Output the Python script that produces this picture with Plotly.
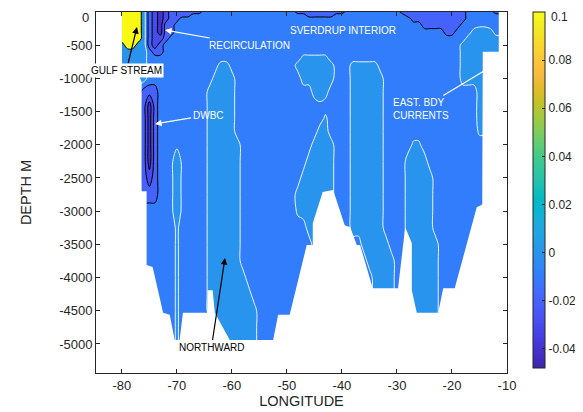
import plotly.graph_objects as go

# ---------------- data ----------------
lon_grid = list(range(-80, -10))          # -80 ... -11 (grid columns)
depth_grid = [0, -50, -100, -200, -300, -400, -500, -600, -700, -800, -1000,
              -1200, -1400, -1600, -1800, -2000, -2250, -2500, -2750, -3000,
              -3250, -3500, -3750, -4000, -4250, -4500, -4750, -5000]

# velocity classes (m/s)
velocity_codes = {'.': -0.005, '+': 0.005, 'p': 0.015, 't': 0.002,
                  'a': -0.015, 'b': -0.025, 'c': -0.035, 'Y': 0.1}

# rows top->bottom, columns lon -80..-11 (groups of 10 degrees)
velocity_rows = [
    "YYYY+abcba aaaaa..... .......... ..aaaaaaaa a......... .aaaaaaaaa aaa.....aa",
    "YYYY+abcba aaa....... .......... ....aaaaa. .......... ..aaaaaaaa aaa.......",
    "YYYY+abcba a......... .......... .......... .......... ...aaaaaaa aaa.......",
    "YYYY+abcaa .......... .......... .......... .......... .....aaaaa aa........",
    "YYYY+abcaa .......... .......... .......... .......... .........a a...+pp+..",
    "YYYY+abba. .......... .......... .......... .......... .......... ...+++++++",
    "+YY++aba.. .......... .......... .......... .......... .......... ..++++++++",
    "+++++.aa.. .......... .......... .......... .......... .......... ..++++++++",
    "+++++..... .......... .......... ...+++++.. .......... .......... ..++++++++",
    "+++++..... ........++ .......... ..+++++++. ..+++++... .......... ..++++++++",
    "+++++..... .......+++ +......... ...++++++. ..++++++.. .......... ..++++++++",
    "....aaa... ......++++ +......... .....+p+.. ..++++++.. .......... .....+++++",
    "....aca... ......++++ +......... .......... ..++++++.. .......... .....+++++",
    "....aca... ......++++ +......... .......t.. ..++++++.. .......... .....+++++",
    "....aca... ......++++ +......... ......++.. ..++++++.. .......... .....ttttt",
    "....aca... ......++++ ++........ .....++++. ..++++++.. ...tt..... ..........",
    "....aca... p.....++++ ++........ ....+++++. ..++++++.. ..++++.... ..........",
    "....aba... p.....++++ ++........ ...++++++. ..++++++.. ..+++++... ..........",
    "....aaa... p.....++++ ++........ ..+++++++. ..++++++.. ..+++++... ..........",
    ".......... p.....++++ ++........ ..t++++++. ..++++++.. ..+++++... ..........",
    ".......... t.....++++ ++........ ....+++++. ..++++++.. ..+++++... ..........",
    ".......... t.....++++ ++........ .....++++. ....+++++. ..++++++.. ..........",
    ".......... t.....++++ ++........ .....++++. .....+++++ ..++++++.. ..........",
    ".......... t.....++++ +++....... .....++++. ......++++ ..++++++.. ..........",
    ".......... t.....++++ ++++...... .....++++. ......++++ ..++++++.. ..........",
    ".......... t.....++++ +++++..... .....++++. ......++++ ..++++++.. ..........",
    ".......... t......+++ +++++..... .....++++. ......++++ ..++++++.. ..........",
    ".......... t......+++ +++++..... .....++++. ......++++ ..++++++.. ..........",
]

# sea floor (bathymetry), west -> east
bathy_lon = [-80.0, -77.0, -76.4, -76.4, -75.5, -75.5, -74.4, -72.5, -71.3, -70.4,
             -69.5, -68.9, -64.5, -64.4, -63.5, -63.1, -60.4, -52.5, -51.6, -49.5,
             -46.4, -45.3, -45.3, -43.5, -41.6, -39.5, -38.5, -37.3, -36.7, -34.4,
             -29.8, -28.5, -27.3, -27.3, -26.4, -22.5, -21.6, -19.5, -15.5, -14.5,
             -14.4, -11.5]
bathy_depth = [-950, -950, -1050, -2700, -2700, -3810, -3840, -4530, -4560, -4940,
               -4940, -4530, -4530, -4190, -4190, -4530, -4940, -4940, -4560, -4560,
               -3510, -3510, -3180, -2710, -2680, -3210, -3240, -3510, -3510, -4160,
               -4160, -3240, -3480, -4190, -4530, -4530, -4160, -4160, -2940, -2900,
               -600, -600]

x_ticks = [-80, -70, -60, -50, -40, -30, -20, -10]
y_ticks = [0, -500, -1000, -1500, -2000, -2500, -3000, -3500, -4000, -4500, -5000]
cbar_ticks = [0.1, 0.08, 0.06, 0.04, 0.02, 0, -0.02, -0.04]
cbar_labels = ['0.1', '0.08', '0.06', '0.04', '0.02', '0', '-0.02', '-0.04']
v_min, v_max = -0.048, 0.1

# ---------------- style ----------------
parula = [
    (0.2422, 0.1504, 0.6603), (0.2504, 0.1650, 0.7076), (0.2578, 0.1818, 0.7511),
    (0.2647, 0.1978, 0.7952), (0.2706, 0.2147, 0.8364), (0.2751, 0.2342, 0.8710),
    (0.2783, 0.2559, 0.8991), (0.2803, 0.2782, 0.9221), (0.2813, 0.3006, 0.9414),
    (0.2810, 0.3228, 0.9579), (0.2795, 0.3447, 0.9717), (0.2760, 0.3667, 0.9829),
    (0.2699, 0.3892, 0.9906), (0.2602, 0.4123, 0.9952), (0.2440, 0.4358, 0.9988),
    (0.2206, 0.4603, 0.9973), (0.1963, 0.4847, 0.9892), (0.1834, 0.5074, 0.9798),
    (0.1786, 0.5289, 0.9682), (0.1764, 0.5499, 0.9520), (0.1687, 0.5703, 0.9359),
    (0.1540, 0.5902, 0.9218), (0.1460, 0.6091, 0.9079), (0.1380, 0.6276, 0.8973),
    (0.1248, 0.6459, 0.8883), (0.1113, 0.6635, 0.8763), (0.0952, 0.6798, 0.8598),
    (0.0689, 0.6948, 0.8394), (0.0297, 0.7082, 0.8163), (0.0036, 0.7203, 0.7917),
    (0.0067, 0.7312, 0.7660), (0.0433, 0.7411, 0.7394), (0.0964, 0.7500, 0.7120),
    (0.1408, 0.7584, 0.6842), (0.1717, 0.7670, 0.6554), (0.1938, 0.7758, 0.6251),
    (0.2161, 0.7843, 0.5923), (0.2470, 0.7918, 0.5567), (0.2906, 0.7973, 0.5188),
    (0.3406, 0.8008, 0.4789), (0.3909, 0.8029, 0.4354), (0.4456, 0.8024, 0.3909),
    (0.5044, 0.7993, 0.3480), (0.5616, 0.7942, 0.3045), (0.6174, 0.7876, 0.2612),
    (0.6720, 0.7793, 0.2227), (0.7242, 0.7698, 0.1910), (0.7738, 0.7598, 0.1646),
    (0.8203, 0.7498, 0.1535), (0.8634, 0.7406, 0.1596), (0.9035, 0.7330, 0.1774),
    (0.9393, 0.7288, 0.2100), (0.9728, 0.7298, 0.2394), (0.9956, 0.7434, 0.2371),
    (0.9970, 0.7659, 0.2199), (0.9952, 0.7893, 0.2028), (0.9892, 0.8136, 0.1885),
    (0.9807, 0.8380, 0.1758), (0.9705, 0.8628, 0.1641), (0.9606, 0.8875, 0.1535),
    (0.9565, 0.9111, 0.1413), (0.9597, 0.9352, 0.1253), (0.9644, 0.9596, 0.1061),
    (0.9763, 0.9831, 0.0538)]


def rgb(c):
    return 'rgb(%d,%d,%d)' % tuple(round(255 * v) for v in c)


def parula_at(v):
    f = min(max((v - v_min) / (v_max - v_min), 0.0), 1.0) * (len(parula) - 1)
    i = min(int(f), len(parula) - 2)
    w = f - i
    return rgb(tuple(parula[i][k] * (1 - w) + parula[i + 1][k] * w for k in range(3)))


parula_scale = [[i / (len(parula) - 1), rgb(c)] for i, c in enumerate(parula)]

# band colours (MATLAB contourf: band coloured by its lower level)
c_lo = parula_at(-0.045)
c1 = parula_at(-0.04)
c2 = parula_at(-0.03)
c3 = parula_at(-0.02)
c4 = parula_at(-0.01)
c5 = parula_at(0.0)
cy = parula_at(0.099)
band_scale = [[0.0, c_lo], [0.05, c_lo], [0.05, c1], [0.15, c1], [0.15, c2], [0.25, c2],
              [0.25, c3], [0.35, c3], [0.35, c4], [0.45, c4], [0.45, c5], [0.95, c5],
              [0.95, cy], [1.0, cy]]

z = [[velocity_codes[ch] for ch in r.replace(' ', '')] for r in velocity_rows]
for r in z:
    assert len(r) == len(lon_grid)
y_up = depth_grid[::-1]
z_up = z[::-1]

AX = '#262626'
FONT = 'Arial, Liberation Sans, sans-serif'
SM = 1.0

fig = go.Figure()
fig.add_trace(go.Contour(
    x=lon_grid, y=y_up, z=z_up, autocontour=False,
    contours=dict(start=-0.04, end=0.05, size=0.01, coloring='fill', showlines=False),
    colorscale=band_scale, showscale=False, line=dict(width=0, smoothing=SM),
    hoverinfo='skip'))
fig.add_trace(go.Contour(
    x=lon_grid, y=y_up, z=z_up, autocontour=False,
    contours=dict(start=-0.03, end=-0.01, size=0.01, coloring='none'),
    line=dict(color='black', width=1, smoothing=SM), showscale=False, hoverinfo='skip'))
fig.add_trace(go.Contour(
    x=lon_grid, y=y_up, z=z_up, autocontour=False,
    contours=dict(start=0.05, end=0.05, size=0.01, coloring='none'),
    line=dict(color='black', width=1, smoothing=SM), showscale=False, hoverinfo='skip'))
fig.add_trace(go.Contour(
    x=lon_grid, y=y_up, z=z_up, autocontour=False,
    contours=dict(start=0.0, end=0.0, size=0.01, coloring='none'),
    line=dict(color='rgb(235,240,250)', width=1, smoothing=SM), showscale=False,
    hoverinfo='skip'))

# sea floor mask
poly_x = [-86, -80.0] + bathy_lon + [-11.5, -9, -9, -86, -86]
poly_y = [0, 0] + bathy_depth + [0, 0, -6000, -6000, 0]
fig.add_trace(go.Scatter(x=poly_x, y=poly_y, mode='lines', fill='toself',
                         fillcolor='white', line=dict(width=0, color='white'),
                         hoverinfo='skip'))

# the top-most tick labels are written as annotations nudged a little down,
# so that they are not clipped by the page edge
y_ticktext = ['' if v == 0 else str(v) for v in y_ticks]
cbar_ticktext = ['' if t == cbar_labels[0] else t for t in cbar_labels]

# continuous colour bar (plot area spans x 96..507 px, y 12..373 px of the page)
fig.add_trace(go.Scatter(
    x=[-84], y=[-5400], mode='markers', hoverinfo='skip',
    marker=dict(size=1, opacity=0, color=[0], colorscale=parula_scale,
                cmin=v_min, cmax=v_max, showscale=True,
                colorbar=dict(x=(533 - 96) / 411, xanchor='left', y=1.0, yanchor='top',
                              len=356 / 361, lenmode='fraction', thickness=12,
                              thicknessmode='pixels', xpad=0, ypad=0,
                              outlinewidth=1, outlinecolor=AX,
                              tickvals=cbar_ticks, ticktext=cbar_ticktext,
                              ticks='inside', ticklen=3, tickcolor=AX,
                              tickfont=dict(family=FONT, size=12, color=AX)))))


def lonx(px):
    return -84.7 + (px - 96) * 74.7 / 411


def depy(py):
    return -(py - 12) * 5437 / 361


ann = []
ann.append(dict(text='GULF STREAM', x=lonx(137), y=depy(27), ax=lonx(126.5), ay=depy(70),
                font=dict(color='black', size=10, family=FONT), bgcolor='white',
                arrowcolor='black'))
ann.append(dict(text='RECIRCULATION', x=lonx(165), y=depy(30), ax=lonx(249), ay=depy(45),
                font=dict(color='white', size=10, family=FONT), arrowcolor='white'))
ann.append(dict(text='SVERDRUP INTERIOR', x=lonx(343), y=depy(30), showarrow=False,
                font=dict(color='white', size=10, family=FONT)))
ann.append(dict(text='DWBC', x=lonx(155), y=depy(124), ax=lonx(208), ay=depy(115),
                font=dict(color='white', size=10, family=FONT), arrowcolor='white'))
ann.append(dict(text='EAST. BDY<br>CURRENTS', x=lonx(497), y=depy(63), ax=lonx(421),
                ay=depy(109), align='left',
                font=dict(color='white', size=10, family=FONT), arrowcolor='white'))
ann.append(dict(text='NORTHWARD', x=lonx(225), y=depy(258), ax=lonx(211.5), ay=depy(347),
                font=dict(color='black', size=10, family=FONT), arrowcolor='black'))
for a in ann:
    a.update(xref='x', yref='y')
    if a.get('showarrow', True):
        a.update(axref='x', ayref='y', showarrow=True, arrowhead=2, arrowsize=1.1,
                 arrowwidth=1.2, standoff=0, borderpad=1)

ann.append(dict(text=str(y_ticks[0]), xref='paper', yref='paper', x=(91 - 96) / 411, y=1.0,
                xanchor='right', yanchor='middle', yshift=-5, showarrow=False,
                font=dict(color=AX, size=13, family=FONT)))
ann.append(dict(text=cbar_labels[0], xref='paper', yref='paper', x=(549 - 96) / 411, y=1.0,
                xanchor='left', yanchor='middle', yshift=-5, showarrow=False,
                font=dict(color=AX, size=12, family=FONT)))

# the page body adds an 8 px margin, so the figure is 8 px smaller on each axis
fig.update_layout(
    width=575, height=404, margin=dict(l=88, r=76, t=4, b=39, autoexpand=False),
    plot_bgcolor='white', paper_bgcolor='white', showlegend=False,
    font=dict(family=FONT, size=13, color=AX), annotations=ann)
fig.update_xaxes(range=[-84.7, -10], tickvals=x_ticks, ticktext=[str(v) for v in x_ticks],
                 ticks='inside', ticklen=4, tickcolor=AX, showline=True, mirror='ticks',
                 linecolor=AX, linewidth=1, showgrid=False, zeroline=False,
                 tickfont=dict(size=13, color=AX),
                 title=dict(text='LONGITUDE', font=dict(size=14.5, color=AX), standoff=3))
fig.update_yaxes(range=[-5437, 0], tickvals=y_ticks, ticktext=y_ticktext,
                 ticks='inside', ticklen=4, tickcolor=AX, showline=True, mirror='ticks',
                 linecolor=AX, linewidth=1, showgrid=False, zeroline=False,
                 tickfont=dict(size=13, color=AX),
                 title=dict(text='DEPTH M', font=dict(size=14.5, color=AX), standoff=24))

fig.write_html('out.html')
